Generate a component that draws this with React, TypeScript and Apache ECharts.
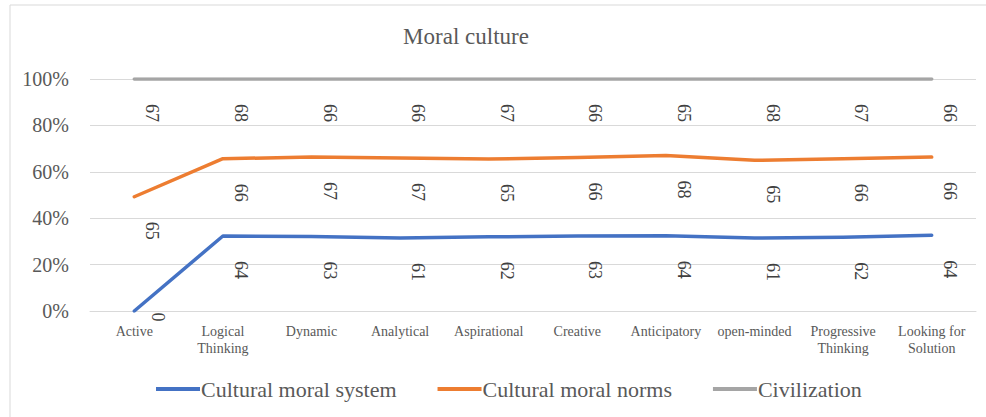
import React, { useEffect, useRef } from "react";
import * as echarts from "echarts";

const categories = [
  "Active",
  "Logical\nThinking",
  "Dynamic",
  "Analytical",
  "Aspirational",
  "Creative",
  "Anticipatory",
  "open-minded",
  "Progressive\nThinking",
  "Looking for\nSolution",
];
const moralSystem = [0, 64, 63, 61, 62, 63, 64, 61, 62, 64];
const moralNorms = [65, 66, 67, 67, 65, 66, 68, 65, 66, 66];
const civilization = [67, 68, 66, 66, 67, 66, 65, 68, 67, 66];
const yTicks = [0, 20, 40, 60, 80, 100];

const FONT = "Liberation Serif";
const TXT = "#595959";

export default function App() {
  const ref = useRef<HTMLDivElement>(null);
  useEffect(() => {
    const chart = echarts.init(ref.current!, null, { renderer: "svg" });
    const totals = categories.map((_, i) => moralSystem[i] + moralNorms[i] + civilization[i]);
    const pct = (arr: number[]) => arr.map((v, i) => (v / totals[i]) * 100);
    const raws = [moralSystem, moralNorms, civilization];
    const pcts = raws.map(pct);
    const names = ["Cultural moral system", "Cultural moral norms", "Civilization"];
    const colors = ["#4472C4", "#ED7D31", "#A5A5A5"];

    const series = raws.map((raw, s) => ({
      name: names[s],
      type: "line",
      stack: "total",
      data: pcts[s].map((v, i) => {
        const cum = pcts.slice(0, s + 1).reduce((a, arr) => a + arr[i], 0);
        const item: any = { value: v };
        if (cum < 5) {
          item.label = { offset: [6, -24] };
        }
        return item;
      }),
      symbol: "circle",
      symbolSize: 1,
      showSymbol: true,
      showAllSymbol: true,
      smooth: false,
      lineStyle: { width: 3.5, color: colors[s], cap: "round", join: "round" },
      itemStyle: { color: colors[s] },
      label: {
        show: true,
        position: "inside",
        rotate: -90,
        offset: [34, -18],
        formatter: (p: any) => String(raw[p.dataIndex]),
        fontFamily: FONT,
        fontSize: 18,
        color: "#404040",
      },
    }));

    chart.setOption({
      animation: false,
      backgroundColor: "#ffffff",
      title: {
        text: "Moral culture",
        left: 461,
        top: 20,
        textAlign: "center",
        textStyle: { fontFamily: FONT, fontSize: 23, fontWeight: "normal", color: TXT },
      },
      legend: {
        left: 156,
        top: 378,
        padding: 0,
        itemWidth: 44,
        itemHeight: 4,
        itemGap: 41,
        icon: "rect",
        textStyle: { fontFamily: FONT, fontSize: 22, color: TXT, padding: [0, 0, 0, -4] },
        data: names,
      },
      grid: { left: 90, right: 10, top: 79, bottom: 106 },
      xAxis: {
        type: "category",
        data: categories,
        boundaryGap: true,
        axisLine: { show: true, lineStyle: { color: "#d9d9d9", width: 1 } },
        axisTick: { show: false },
        axisLabel: {
          interval: 0,
          margin: 12,
          fontFamily: FONT,
          fontSize: 14,
          lineHeight: 17,
          color: TXT,
        },
      },
      yAxis: {
        type: "value",
        min: yTicks[0],
        max: yTicks[yTicks.length - 1],
        interval: yTicks[1] - yTicks[0],
        axisLine: { show: false },
        axisTick: { show: false },
        splitLine: { lineStyle: { color: "#d9d9d9", width: 1 } },
        axisLabel: {
          formatter: "{value}%",
          margin: 21,
          fontFamily: FONT,
          fontSize: 20,
          color: TXT,
        },
      },
      graphic: [
        {
          type: "polyline",
          shape: { points: [[10, 420], [10, 5], [990, 5]] },
          style: { stroke: "#d9d9d9", lineWidth: 1, fill: "none" },
        },
      ],
      series,
    });
    return () => chart.dispose();
  }, []);
  return (
    <div
      ref={ref}
      style={{ position: "absolute", left: 0, top: 0, width: 986, height: 417 }}
    />
  );
}
